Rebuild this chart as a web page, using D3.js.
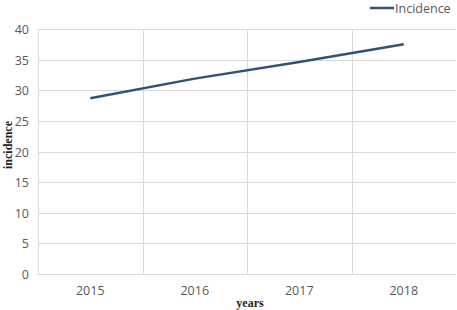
<!DOCTYPE html>
<html>
<head>
<meta charset="utf-8">
<script src="https://cdn.jsdelivr.net/npm/d3@7"></script>
<style>
  body { margin: 0; background: #fff; }
  svg { display: block; }
  .tick text { font-family: 'Open Sans', sans-serif; font-size: 12.5px; fill: #595959; }
</style>
</head>
<body>
<script>
const years = ['2015', '2016', '2017', '2018']
const incidence = [28.7, 31.9, 34.6, 37.5]
const yTicks = [0, 5, 10, 15, 20, 25, 30, 35, 40]

const width = 457
const height = 310
const margin = { top: 29, right: 1, bottom: 36, left: 38 }
const lineColor = '#2f5377'
const gridColor = '#d9d9d9'

const svg = d3.select('body').append('svg')
  .attr('width', width)
  .attr('height', height)

const x = d3.scaleBand()
  .domain(years)
  .range([margin.left, width - margin.right])

const y = d3.scaleLinear()
  .domain([0, 40])
  .range([height - margin.bottom, margin.top])

// horizontal grid
svg.append('g')
  .selectAll('line')
  .data(yTicks)
  .enter()
  .append('line')
  .attr('x1', margin.left)
  .attr('x2', width - margin.right)
  .attr('y1', d => Math.round(y(d)) + 0.5)
  .attr('y2', d => Math.round(y(d)) + 0.5)
  .attr('stroke', gridColor)

// vertical grid at band boundaries
svg.append('g')
  .selectAll('line')
  .data(years.slice(1))
  .enter()
  .append('line')
  .attr('x1', d => Math.round(x(d)) + 0.5)
  .attr('x2', d => Math.round(x(d)) + 0.5)
  .attr('y1', y(40))
  .attr('y2', y(0))
  .attr('stroke', gridColor)

// left axis line
svg.append('line')
  .attr('x1', margin.left + 0.5).attr('x2', margin.left + 0.5)
  .attr('y1', y(40)).attr('y2', y(0))
  .attr('stroke', gridColor)

const yAxis = svg.append('g')
  .attr('transform', `translate(${margin.left}, 0)`)
  .call(d3.axisLeft(y).tickValues(yTicks).tickSize(0).tickPadding(9))
yAxis.select('.domain').remove()
yAxis.selectAll('.tick text').attr('dy', '0.36em')

const xAxis = svg.append('g')
  .attr('transform', `translate(0, ${height - margin.bottom})`)
  .call(d3.axisBottom(x).tickSize(0).tickPadding(12))
xAxis.select('.domain').remove()

// line
const line = d3.line()
  .x((d, i) => x(years[i]) + x.bandwidth() / 2)
  .y(d => y(d))

svg.append('path')
  .attr('d', line(incidence))
  .attr('fill', 'none')
  .attr('stroke', lineColor)
  .attr('stroke-width', 2.5)

// axis titles
svg.append('text')
  .attr('x', 250)
  .attr('y', 307)
  .attr('text-anchor', 'middle')
  .style('font-family', "'Liberation Serif', serif")
  .style('font-weight', 'bold')
  .style('font-size', '12px')
  .style('fill', '#222')
  .text('years')

svg.append('text')
  .attr('transform', 'translate(12, 145) rotate(-90)')
  .attr('text-anchor', 'middle')
  .style('font-family', "'Liberation Serif', serif")
  .style('font-weight', 'bold')
  .style('font-size', '12px')
  .style('fill', '#222')
  .text('incidence')

// legend
svg.append('line')
  .attr('x1', 370).attr('x2', 394)
  .attr('y1', 8).attr('y2', 8)
  .attr('stroke', lineColor)
  .attr('stroke-width', 2.5)

svg.append('text')
  .attr('x', 395)
  .attr('y', 13)
  .style('font-family', "'Open Sans', sans-serif")
  .style('font-size', '12.5px')
  .style('fill', '#595959')
  .text('Incidence')
</script>
</body>
</html>
